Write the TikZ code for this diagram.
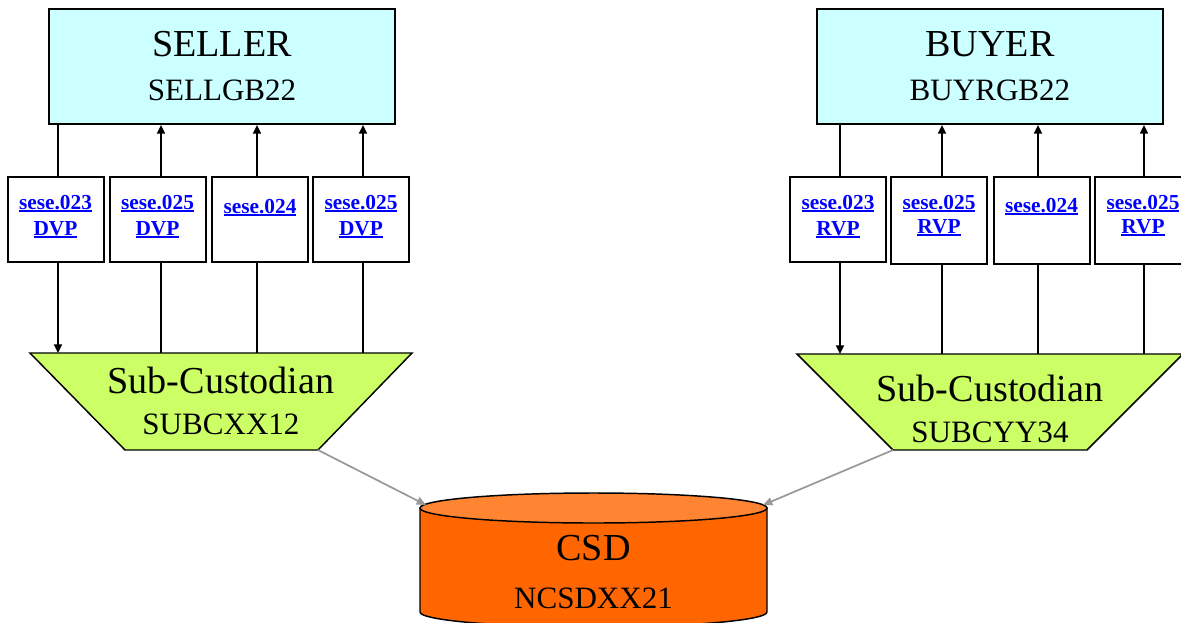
\documentclass[tikz,border=0pt]{standalone}
\usepackage{fontspec}
\setmainfont{Liberation Serif}
\usetikzlibrary{arrows.meta}
\definecolor{partyfill}{HTML}{CCFFFF}
\definecolor{subfill}{HTML}{CCFF66}
\definecolor{csdbody}{HTML}{FF6600}
\definecolor{csdtop}{HTML}{FF8533}
\definecolor{linkblue}{HTML}{0000FF}
\definecolor{feedgray}{HTML}{999999}
% underlined hyperlink-style label
\newsavebox{\lnkbox}
\newcommand{\msglink}[1]{\textcolor{linkblue}{\sbox{\lnkbox}{#1}\rlap{\rule[-2.4pt]{\wd\lnkbox}{1.4pt}}\usebox{\lnkbox}}}
\tikzset{
  party/.style={draw, line width=1.5pt, fill=partyfill, minimum width=259.5pt, minimum height=86.25pt, inner sep=0pt},
  msgbox/.style={draw, line width=1.5pt, fill=white, minimum width=72pt, inner sep=0pt},
  bigtxt/.style={anchor=base, inner sep=0pt, font=\fontsize{28.6}{28.6}\selectfont},
  codetxt/.style={anchor=base, inner sep=0pt, font=\fontsize{23.3}{23.3}\selectfont},
  msgtxt/.style={anchor=base, inner sep=0pt, font=\bfseries\fontsize{16}{16}\selectfont},
  subshape/.style={draw, line width=1.1pt, fill=subfill},
  flow/.style={line width=1.5pt, -{Triangle[length=6.5pt,width=6pt]}},
  feed/.style={line width=1.3pt, draw=feedgray, -{Triangle[length=7pt,width=6pt]}, feedgray},
}
\begin{document}
\begin{tikzpicture}[x=0.75pt, y=-0.75pt]
\useasboundingbox (0,0) rectangle (1181,622);

% Parties
\node[party] (seller) at (222,66.5) {};
\node[bigtxt] (sellerName) at (222,56) {SELLER};
\node[codetxt] (sellerBic) at (222,100) {SELLGB22};
\node[party] (buyer) at (990,66.5) {};
\node[bigtxt] (buyerName) at (990,56) {BUYER};
\node[codetxt] (buyerBic) at (990,100) {BUYRGB22};

% Sub-custodians
\path[subshape] (30,353) -- (412,353) -- (318,450) -- (125,450) -- cycle;
\coordinate (subLbr) at (318,450);
\coordinate (lA) at (58,353);
\coordinate (lB) at (161,353);
\coordinate (lC) at (257,353);
\coordinate (lD) at (363,353);
\node[bigtxt] (subLName) at (221,393) {Sub-Custodian};
\node[codetxt] (subLBic) at (221,434) {SUBCXX12};

\path[subshape] (797,354) -- (1183,354) -- (1087,450) -- (893,450) -- cycle;
\coordinate (subRbl) at (893,450);
\coordinate (rA) at (840,354);
\coordinate (rB) at (942,354);
\coordinate (rC) at (1038,354);
\coordinate (rD) at (1144,354);
\node[bigtxt] (subRName) at (990,401) {Sub-Custodian};
\node[codetxt] (subRBic) at (990,442) {SUBCYY34};

% Message flows
\draw[flow] (lA |- seller.south) -- (lA);
\draw[flow] (lB) -- (lB |- seller.south);
\draw[flow] (lC) -- (lC |- seller.south);
\draw[flow] (lD) -- (lD |- seller.south);
\draw[flow] (rA |- buyer.south) -- (rA);
\draw[flow] (rB) -- (rB |- buyer.south);
\draw[flow] (rC) -- (rC |- buyer.south);
\draw[flow] (rD) -- (rD |- buyer.south);

% Message boxes
\node[msgbox, minimum height=63.75pt] (m1) at (55.5,219.5) {};
\node[msgbox, minimum height=63.75pt] (m2) at (157.5,219.5) {};
\node[msgbox, minimum height=63.75pt] (m3) at (260,219.5) {};
\node[msgbox, minimum height=63.75pt] (m4) at (361,219.5) {};
\node[msgtxt] at (m1 |- 0,209) {\msglink{sese.023}};
\node[msgtxt] at (m1 |- 0,235) {\msglink{DVP}};
\node[msgtxt] at (m2 |- 0,209) {\msglink{sese.025}};
\node[msgtxt] at (m2 |- 0,235) {\msglink{DVP}};
\node[msgtxt] at (m3 |- 0,213) {\msglink{sese.024}};
\node[msgtxt] at (m4 |- 0,209) {\msglink{sese.025}};
\node[msgtxt] at (m4 |- 0,235) {\msglink{DVP}};

\node[msgbox, minimum height=63.75pt] (n1) at (838,219.5) {};
\node[msgbox, minimum height=65.25pt] (n2) at (939,220.5) {};
\node[msgbox, minimum height=65.25pt] (n3) at (1041.5,220.5) {};
\node[msgbox, minimum height=65.25pt] (n4) at (1143,220.5) {};
\node[msgtxt] at (n1 |- 0,209) {\msglink{sese.023}};
\node[msgtxt] at (n1 |- 0,235) {\msglink{RVP}};
\node[msgtxt] at (n2 |- 0,209) {\msglink{sese.025}};
\node[msgtxt] at (n2 |- 0,233) {\msglink{RVP}};
\node[msgtxt] at (n3 |- 0,212) {\msglink{sese.024}};
\node[msgtxt] at (n4 |- 0,209) {\msglink{sese.025}};
\node[msgtxt] at (n4 |- 0,233) {\msglink{RVP}};

% CSD cylinder
\path[draw, line width=1.1pt, fill=csdbody] (420,508) -- (420,612) arc[start angle=180, end angle=360, x radius=173.5, y radius=-15] -- (767,508) -- cycle;
\path[draw, line width=1.1pt, fill=csdtop] (593.5,508) ellipse[x radius=173.5, y radius=15];
\coordinate (csdL) at (426,505);
\coordinate (csdR) at (763,505);
\node[bigtxt] (csdName) at (593.5,560) {CSD};
\node[codetxt] (csdBic) at (593.5,608) {NCSDXX21};

% Settlement feeds
\draw[feed] (subLbr) -- (csdL);
\draw[feed] (subRbl) -- (csdR);
\end{tikzpicture}
\end{document}
